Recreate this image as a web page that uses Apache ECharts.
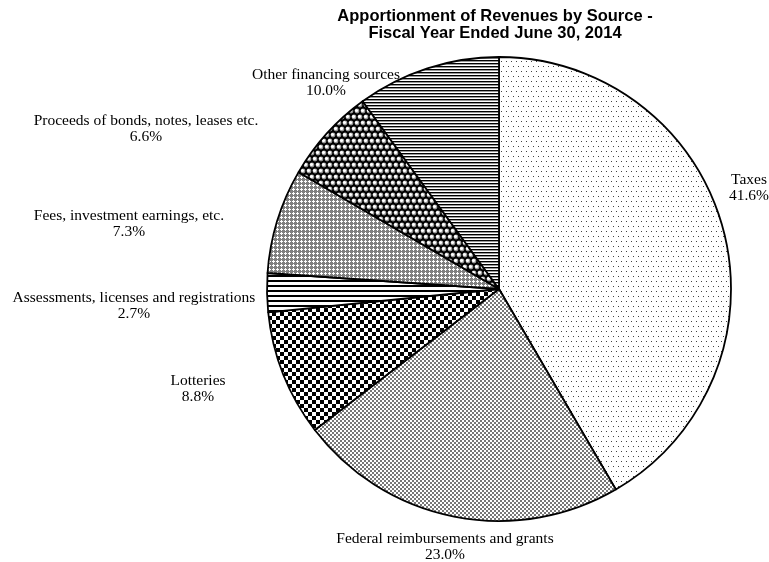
<!DOCTYPE html>
<html>
<head>
<meta charset="utf-8">
<script src="https://cdn.jsdelivr.net/npm/echarts@6/dist/echarts.min.js"></script>
<style>
  html, body { margin: 0; padding: 0; background: #fff; }
  #chart { width: 769px; height: 562px; }
</style>
</head>
<body>
<div id="chart"></div>
<script>
// data
var categories = [
  'Taxes',
  'Federal reimbursements and grants',
  'Lotteries',
  'Assessments, licenses and registrations',
  'Fees, investment earnings, etc.',
  'Proceeds of bonds, notes, leases etc.',
  'Other financing sources'
]
var shares = [41.6, 23.0, 8.8, 2.7, 7.3, 6.6, 10.0]

// pie geometry
var pieCenter = [499, 289]
var pieRadius = 232
// where each label sits, as offset of its centre from the pie centre (px)
var labelSpot = [
  [250, -101],
  [-54, 258],
  [-301, 100],
  [-365, 17],
  [-370, -65],
  [-353, -160],
  [-173, -206]
]

// small pattern tiles, one per slice (the black & white fills of the original)
function tile (w, h, draw) {
  var c = document.createElement('canvas')
  c.width = w
  c.height = h
  var ctx = c.getContext('2d')
  ctx.fillStyle = '#fff'
  ctx.fillRect(0, 0, w, h)
  draw(ctx)
  return { image: c, repeat: 'repeat' }
}

var patterns = [
  // sparse dots
  tile(5, 10, function (ctx) {
    ctx.fillStyle = '#444'
    ctx.fillRect(1, 1, 1, 1)
    ctx.fillRect(3, 6, 1, 1)
  }),
  // fine grey dither
  tile(4, 4, function (ctx) {
    ctx.fillStyle = '#777'
    ctx.fillRect(0, 0, 2, 2)
    ctx.fillRect(2, 2, 2, 2)
  }),
  // big checkerboard
  tile(8, 8, function (ctx) {
    ctx.fillStyle = '#000'
    ctx.fillRect(0, 0, 4, 4)
    ctx.fillRect(4, 4, 4, 4)
  }),
  // thick horizontal stripes
  tile(4, 5, function (ctx) {
    ctx.fillStyle = '#000'
    ctx.fillRect(0, 0, 4, 2)
  }),
  // grey with white crosses
  tile(4, 4, function (ctx) {
    ctx.fillStyle = '#808080'
    ctx.fillRect(0, 0, 4, 4)
    ctx.fillStyle = '#fff'
    ctx.fillRect(1, 0, 1, 3)
    ctx.fillRect(0, 1, 3, 1)
  }),
  // bubbles
  tile(6, 12, function (ctx) {
    ctx.fillStyle = '#000'
    ctx.fillRect(0, 0, 6, 12)
    function bubble (x, y) {
      ctx.fillStyle = '#999'
      ctx.beginPath()
      ctx.arc(x, y, 2.4, 0, Math.PI * 2)
      ctx.fill()
      ctx.fillStyle = '#fff'
      ctx.beginPath()
      ctx.arc(x - 0.5, y - 0.5, 1.6, 0, Math.PI * 2)
      ctx.fill()
    }
    bubble(3, 3)
    bubble(0, 9)
    bubble(6, 9)
  }),
  // fine horizontal lines
  tile(4, 3, function (ctx) {
    ctx.fillStyle = '#000'
    ctx.fillRect(0, 0, 4, 1)
    ctx.fillStyle = '#999'
    ctx.fillRect(0, 1, 4, 1)
  })
]

var chart = echarts.init(document.getElementById('chart'), null, { renderer: 'canvas' })

var option = {
  backgroundColor: '#fff',
  animation: false,
  title: {
    text: 'Apportionment of Revenues by Source -\nFiscal Year Ended June 30, 2014',
    left: 490,
    top: 3,
    textAlign: 'center',
    textStyle: {
      fontFamily: 'Liberation Sans',
      fontWeight: 'bold',
      fontSize: 16.5,
      lineHeight: 17,
      color: '#000'
    }
  },
  series: [
    {
      type: 'pie',
      center: pieCenter,
      radius: pieRadius,
      startAngle: 90,
      clockwise: true,
      avoidLabelOverlap: false,
      itemStyle: {
        borderColor: '#000',
        borderWidth: 1.8
      },
      label: {
        show: true,
        position: 'outside',
        formatter: function (p) {
          return p.name + '\n' + p.value.toFixed(1) + '%'
        },
        fontFamily: 'Liberation Serif',
        fontSize: 15.5,
        lineHeight: 16,
        color: '#000'
      },
      labelLine: { show: false, length: 4, length2: 0 },
      labelLayout: function (params) {
        var s = labelSpot[params.dataIndex]
        return {
          x: pieCenter[0] + s[0],
          y: pieCenter[1] + s[1],
          align: 'center',
          verticalAlign: 'middle'
        }
      },
      data: categories.map(function (name, i) {
        return {
          name: name,
          value: shares[i],
          itemStyle: { color: patterns[i] }
        }
      })
    }
  ]
}

chart.setOption(option)
</script>
</body>
</html>
